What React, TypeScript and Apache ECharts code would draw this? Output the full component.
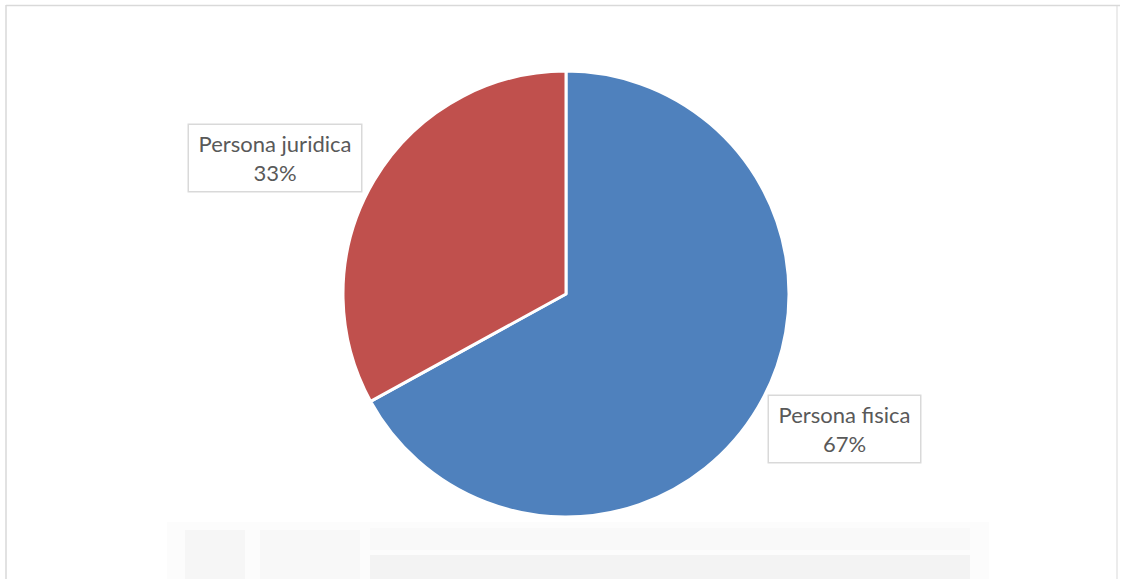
import React, { useEffect, useRef } from "react";
import * as echarts from "echarts";

const categories = ["Persona fisica", "Persona juridica"];
const values = [67, 33];
const colors = ["#4F81BD", "#C0504D"];

export default function App() {
  const ref = useRef<HTMLDivElement>(null);
  useEffect(() => {
    if (!ref.current) return;
    const chart = echarts.init(ref.current, undefined, { renderer: "svg" });
    const labelPos = [
      { x: 844.5, y: 429, width: 135 },
      { x: 275, y: 158, width: 156 },
    ];
    chart.setOption({
      animation: false,
      backgroundColor: "#ffffff",
      graphic: [
        { type: "line", shape: { x1: 6, y1: 5.5, x2: 1120, y2: 5.5 }, style: { stroke: "#d9d9d9", lineWidth: 1.5 } },
        { type: "line", shape: { x1: 6, y1: 5, x2: 6, y2: 579 }, style: { stroke: "#d9d9d9", lineWidth: 1.5 } },
        { type: "line", shape: { x1: 1117, y1: 5, x2: 1117, y2: 579 }, style: { stroke: "#d9d9d9", lineWidth: 1 } },
        { type: "rect", shape: { x: 167, y: 522, width: 822, height: 57 }, style: { fill: "#fcfcfc" }, z: -1 },
        { type: "rect", shape: { x: 185, y: 530, width: 60, height: 49 }, style: { fill: "#f6f6f6" }, z: -1 },
        { type: "rect", shape: { x: 260, y: 530, width: 100, height: 49 }, style: { fill: "#f8f8f8" }, z: -1 },
        { type: "rect", shape: { x: 370, y: 528, width: 600, height: 22 }, style: { fill: "#f9f9f9" }, z: -1 },
        { type: "rect", shape: { x: 370, y: 555, width: 600, height: 24 }, style: { fill: "#f3f3f3" }, z: -1 },
      ],
      series: [
        {
          type: "pie",
          center: [566, 294],
          radius: 223,
          startAngle: 90,
          clockwise: true,
          itemStyle: { borderColor: "#ffffff", borderWidth: 3 },
          labelLine: { show: false },
          label: {
            show: true,
            position: "outside",
            formatter: "{b}\n{d}%",
            fontFamily: "Lato",
            fontSize: 22,
            lineHeight: 29,
            color: "#595959",
            align: "center",
            verticalAlign: "middle",
            backgroundColor: "#ffffff",
            borderColor: "#d9d9d9",
            borderWidth: 1.5,
            padding: [4, 8],
          },
          labelLayout: (p: any) => ({
            x: labelPos[p.dataIndex].x,
            y: labelPos[p.dataIndex].y,
            align: "center",
            verticalAlign: "middle",
          }),
          data: categories.map((name, i) => ({
            name,
            value: values[i],
            itemStyle: { color: colors[i] },
            label: { width: labelPos[i].width, align: "center" },
          })),
        },
      ],
    });
    return () => chart.dispose();
  }, []);
  return <div ref={ref} style={{ position: "fixed", left: 0, top: 0, width: 1121, height: 579 }} />;
}
